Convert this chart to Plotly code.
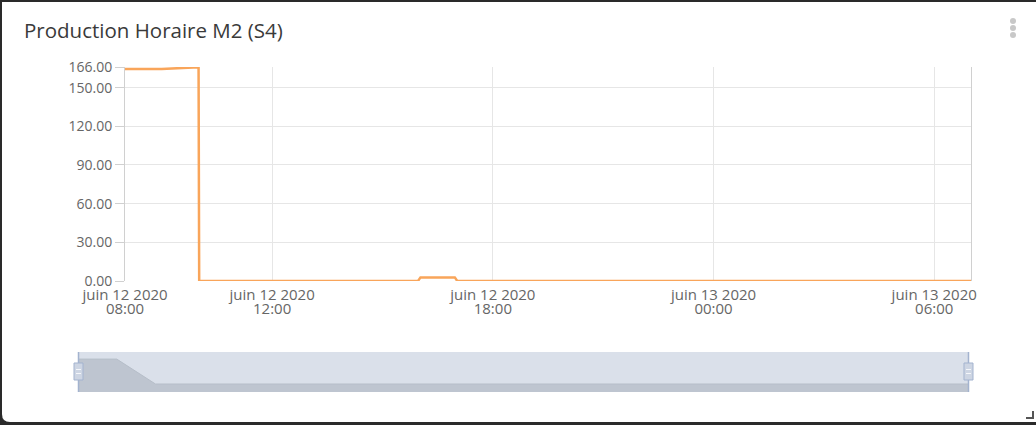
import plotly.graph_objects as go

# ---------------- data ----------------
title_text = "Production Horaire M2 (S4)"

times = [
    "2020-06-12 08:00", "2020-06-12 09:00", "2020-06-12 10:00", "2020-06-12 10:01",
    "2020-06-12 11:00", "2020-06-12 12:00", "2020-06-12 13:00", "2020-06-12 14:00",
    "2020-06-12 15:00", "2020-06-12 15:58", "2020-06-12 16:02", "2020-06-12 16:58",
    "2020-06-12 17:02", "2020-06-12 18:00", "2020-06-12 19:00", "2020-06-12 20:00",
    "2020-06-12 21:00", "2020-06-12 22:00", "2020-06-12 23:00", "2020-06-13 00:00",
    "2020-06-13 01:00", "2020-06-13 02:00", "2020-06-13 03:00", "2020-06-13 04:00",
    "2020-06-13 05:00", "2020-06-13 06:00", "2020-06-13 07:00",
]
values = [
    164.5, 164.5, 165.8, 0.0,
    0.0, 0.0, 0.0, 0.0,
    0.0, 0.0, 2.8, 2.8,
    0.0, 0.0, 0.0, 0.0,
    0.0, 0.0, 0.0, 0.0,
    0.0, 0.0, 0.0, 0.0,
    0.0, 0.0, 0.0,
]

nav_times = [
    "2020-06-12 08:00", "2020-06-12 09:00", "2020-06-12 10:00", "2020-06-12 11:00",
    "2020-06-12 12:00", "2020-06-12 13:00", "2020-06-12 14:00", "2020-06-12 15:00",
    "2020-06-12 16:00", "2020-06-12 17:00", "2020-06-12 18:00", "2020-06-12 19:00",
    "2020-06-12 20:00", "2020-06-12 21:00", "2020-06-12 22:00", "2020-06-12 23:00",
    "2020-06-13 00:00", "2020-06-13 01:00", "2020-06-13 02:00", "2020-06-13 03:00",
    "2020-06-13 04:00", "2020-06-13 05:00", "2020-06-13 06:00", "2020-06-13 07:00",
]
nav_values = [
    164.5, 164.5, 0.0, 0.0,
    0.0, 0.0, 0.0, 0.0,
    2.8, 0.0, 0.0, 0.0,
    0.0, 0.0, 0.0, 0.0,
    0.0, 0.0, 0.0, 0.0,
    0.0, 0.0, 0.0, 0.0,
]

y_ticks = [0, 30, 60, 90, 120, 150, 166]
x_ticks = ["2020-06-12 08:00", "2020-06-12 12:00", "2020-06-12 18:00",
           "2020-06-13 00:00", "2020-06-13 06:00"]
x_tick_dates = ["juin 12 2020", "juin 12 2020", "juin 12 2020", "juin 13 2020", "juin 13 2020"]
x_tick_hours = ["08:00", "12:00", "18:00", "00:00", "06:00"]
x_range = ["2020-06-12 08:00", "2020-06-13 07:00"]
y_range = [0, 166]
nav_y_range = [-52.8, 211.2]

# ---------------- layout helpers ----------------
W, H = 1036, 425


def px(x):
    return x / W


def py(y):
    return 1 - y / H


FONT = "Open Sans"
Y_TICK_FONT = dict(family=FONT, size=14, color="#666666")
X_TICK_FONT = dict(family=FONT, size=15, color="#666666")
LINE_COLOR = "#f9a55a"

fig = go.Figure()

fig.add_trace(go.Scatter(
    x=times, y=values, mode="lines",
    line=dict(color=LINE_COLOR, width=2.5),
    xaxis="x", yaxis="y", hoverinfo="skip", showlegend=False,
))
# invisible carrier so the second (hour) label axis is drawn
fig.add_trace(go.Scatter(
    x=x_range, y=y_range, mode="lines", line=dict(width=0), opacity=0,
    xaxis="x3", yaxis="y", hoverinfo="skip", showlegend=False,
))

# navigator baseline + area
fig.add_trace(go.Scatter(
    x=nav_times, y=[nav_y_range[0]] * len(nav_times), mode="lines",
    line=dict(width=0), xaxis="x2", yaxis="y2", hoverinfo="skip", showlegend=False,
))
fig.add_trace(go.Scatter(
    x=nav_times, y=nav_values, mode="lines", fill="tonexty",
    fillcolor="#bec5d0", line=dict(color="#b6bec9", width=1),
    xaxis="x2", yaxis="y2", hoverinfo="skip", showlegend=False,
))

shapes = []
# card background
card_path = (f"M {px(2)},{py(2)} L {px(1036)},{py(2)} L {px(1036)},{py(422)} "
             f"L {px(10)},{py(422)} Q {px(2)},{py(422)} {px(2)},{py(414)} Z")
shapes.append(dict(type="path", xref="paper", yref="paper", path=card_path,
                   fillcolor="white", line=dict(width=0), layer="below"))
# navigator mask background
shapes.append(dict(type="rect", xref="x2 domain", yref="y2 domain", x0=0, x1=1, y0=0, y1=1,
                   fillcolor="#dae0ea", line=dict(width=0), layer="below"))
# navigator handles
for hx in (78.5, 968.5):
    shapes.append(dict(type="line", xref="paper", yref="paper",
                       x0=px(hx), x1=px(hx), y0=py(352), y1=py(392),
                       line=dict(color="#a3b3cf", width=1.5)))
    shapes.append(dict(type="rect", xref="paper", yref="paper",
                       x0=px(hx - 4.5), x1=px(hx + 4.5), y0=py(363), y1=py(380),
                       fillcolor="#cdd5e3", line=dict(color="#a3b3cf", width=1)))
    for gy in (369.5, 373.5):
        shapes.append(dict(type="line", xref="paper", yref="paper",
                           x0=px(hx - 2.5), x1=px(hx + 2.5), y0=py(gy), y1=py(gy),
                           line=dict(color="#f4f6fa", width=1)))
# kebab menu dots
for dy in (21, 28, 35):
    shapes.append(dict(type="circle", xref="paper", yref="paper",
                       x0=px(1010), x1=px(1016), y0=py(dy - 3), y1=py(dy + 3),
                       fillcolor="#c8c8c8", line=dict(width=0)))
# resize corner icon
shapes.append(dict(type="path", xref="paper", yref="paper",
                   path=f"M {px(1033)},{py(411)} L {px(1033)},{py(418)} L {px(1026)},{py(418)}",
                   line=dict(color="#555555", width=2)))

fig.update_layout(
    width=W, height=H,
    margin=dict(l=0, r=0, t=0, b=0, pad=0, autoexpand=False),
    paper_bgcolor="#2a2a2a",
    plot_bgcolor="rgba(0,0,0,0)",
    showlegend=False,
    font=dict(family=FONT, color="#666666", size=14),
    shapes=shapes,
    annotations=[dict(
        text=title_text, xref="paper", yref="paper", x=px(22), y=py(30),
        xanchor="left", yanchor="middle", showarrow=False,
        font=dict(family=FONT, size=20.5, color="#3a3a3a"),
    )],
    xaxis=dict(
        domain=[px(125), px(971)], range=x_range, anchor="y", automargin=False,
        tickmode="array", tickvals=x_ticks, ticktext=x_tick_dates,
        showgrid=True, gridcolor="#e6e6e6", gridwidth=1,
        showline=False, zeroline=False, ticks="",
        ticklabelstandoff=3,
        tickfont=X_TICK_FONT,
    ),
    xaxis3=dict(
        domain=[px(125), px(971)], range=x_range, anchor="y", overlaying="x",
        side="bottom", automargin=False,
        tickmode="array", tickvals=x_ticks, ticktext=x_tick_hours,
        showgrid=False, showline=False, zeroline=False, ticks="",
        ticklabelstandoff=17,
        tickfont=X_TICK_FONT,
    ),
    yaxis=dict(
        domain=[py(281), py(67)], range=y_range, anchor="x", automargin=False,
        tickmode="array", tickvals=y_ticks, tickformat=".2f",
        showgrid=True, gridcolor="#e6e6e6", gridwidth=1,
        showline=True, linecolor="#d0d0d0", linewidth=1, mirror=True,
        ticks="outside", ticklen=9, tickcolor="#d0d0d0",
        zeroline=False,
        tickfont=Y_TICK_FONT,
    ),
    xaxis2=dict(
        domain=[px(78), px(969)], range=x_range, anchor="y2", automargin=False,
        visible=False, showgrid=False,
    ),
    yaxis2=dict(
        domain=[py(392), py(352)], range=nav_y_range, anchor="x2", automargin=False,
        visible=False, showgrid=False,
    ),
)

fig.write_html(
    "out.html",
    config={"displayModeBar": False},
    post_script="document.body.style.margin='0';document.body.style.overflow='hidden';",
)
